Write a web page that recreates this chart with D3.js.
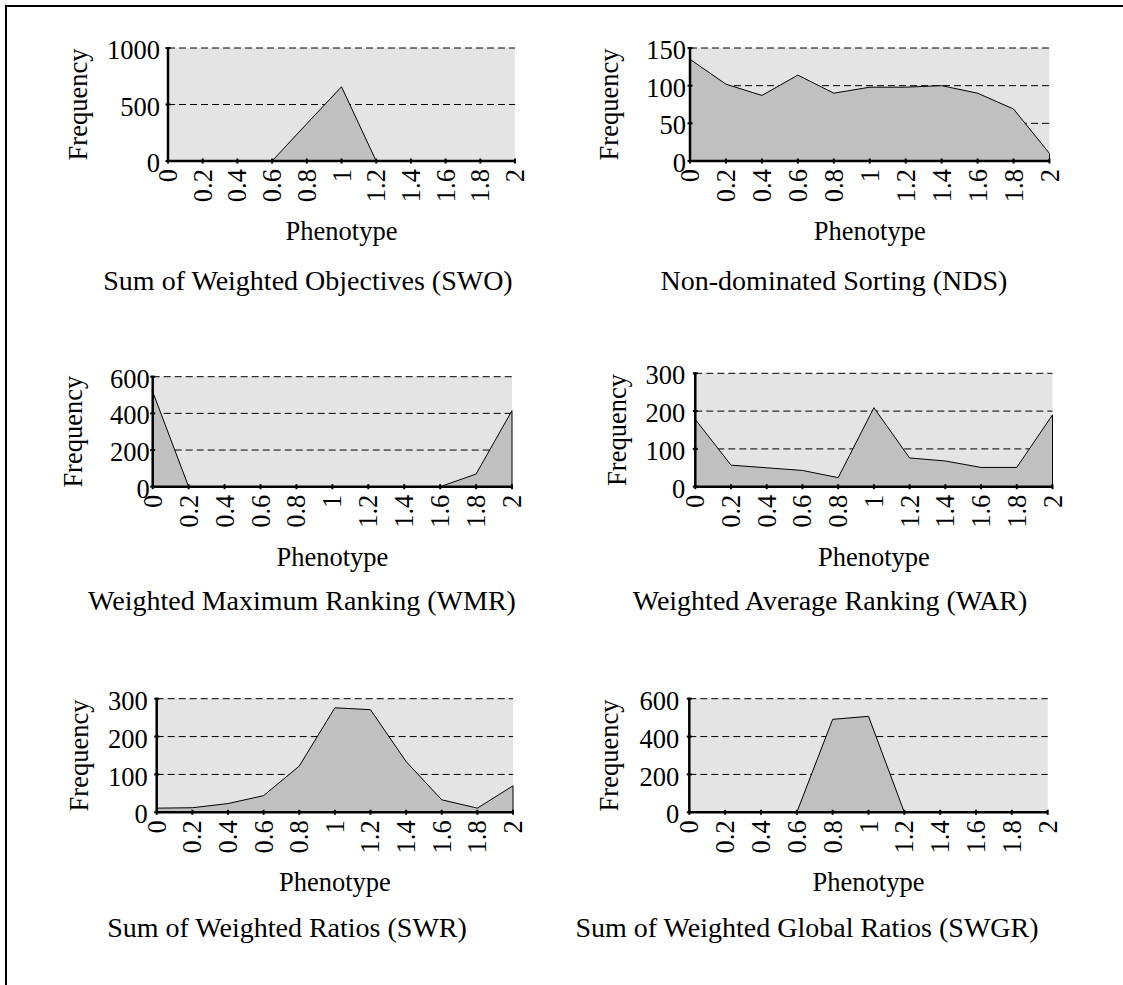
<!DOCTYPE html>
<html>
<head>
<meta charset="utf-8">
<script src="https://cdn.jsdelivr.net/npm/d3@7"></script>
<style>
  html, body { margin: 0; padding: 0; background: #fff; }
  svg { display: block; font-family: "Liberation Serif", "Times New Roman", serif; }
</style>
</head>
<body>
<svg id="chart" width="1123" height="985"></svg>
<script>
// ========================
// DATA
// ========================
const phenotype = [0, 0.2, 0.4, 0.6, 0.8, 1, 1.2, 1.4, 1.6, 1.8, 2];

const swoValues  = [0, 0, 0, 0, 330, 657, 0, 0, 0, 0, 0];
const ndsValues  = [135, 102, 87, 114, 90, 98, 98, 100, 90, 69, 10];
const wmrValues  = [518, 0, 0, 0, 0, 0, 0, 0, 0, 69, 415];
const warValues  = [178, 57, 50, 43, 24, 209, 76, 68, 51, 51, 190];
const swrValues  = [11, 12, 23, 44, 122, 276, 271, 134, 33, 11, 70];
const swgrValues = [0, 0, 0, 0, 491, 507, 0, 0, 0, 0, 0];

const swoTicks  = [0, 500, 1000];
const ndsTicks  = [0, 50, 100, 150];
const wmrTicks  = [0, 200, 400, 600];
const warTicks  = [0, 100, 200, 300];
const swrTicks  = [0, 100, 200, 300];
const swgrTicks = [0, 200, 400, 600];

const titles = [
    "Sum of Weighted Objectives (SWO)",
    "Non-dominated Sorting (NDS)",
    "Weighted Maximum Ranking (WMR)",
    "Weighted Average Ranking (WAR)",
    "Sum of Weighted Ratios (SWR)",
    "Sum of Weighted Global Ratios (SWGR)"
];

// ========================
// LAYOUT (pixel boxes of each panel)
// ========================
const panels = [
    { values: swoValues,  ticks: swoTicks,  x0: 168,   x1: 515,   y0: 48,    y1: 161,   ylabX: 87,  tickGap: 8,  titleX: 308, titleY: 290 },
    { values: ndsValues,  ticks: ndsTicks,  x0: 690,   x1: 1049.5,y0: 48,    y1: 161,   ylabX: 618, tickGap: 4,  titleX: 834, titleY: 290 },
    { values: wmrValues,  ticks: wmrTicks,  x0: 152.7, x1: 512,   y0: 376.7, y1: 486.7, ylabX: 82,  tickGap: 3,  titleX: 302, titleY: 610 },
    { values: warValues,  ticks: warTicks,  x0: 695.3, x1: 1052.5,y0: 373.3, y1: 486.7, ylabX: 626, tickGap: 10, titleX: 830, titleY: 610 },
    { values: swrValues,  ticks: swrTicks,  x0: 156.7, x1: 513,   y0: 698.7, y1: 812.3, ylabX: 88,  tickGap: 9,  titleX: 287, titleY: 937 },
    { values: swgrValues, ticks: swgrTicks, x0: 689.3, x1: 1047.7,y0: 698.7, y1: 812.3, ylabX: 618, tickGap: 10, titleX: 807, titleY: 937 }
];

const svg = d3.select("#chart");

// frame (only top and left edges are visible in the original)
svg.append("path")
    .attr("d", "M6,985V6H1123")
    .attr("fill", "none")
    .attr("stroke", "#000")
    .attr("stroke-width", 2);

function drawPanel(p, i) {
    const x = d3.scaleLinear().domain([0, 2]).range([p.x0, p.x1]);
    const y = d3.scaleLinear().domain([0, d3.max(p.ticks)]).range([p.y1, p.y0]);
    const g = svg.append("g");

    // plot background
    g.append("rect")
        .attr("x", p.x0).attr("y", p.y0)
        .attr("width", p.x1 - p.x0).attr("height", p.y1 - p.y0)
        .attr("fill", "#e4e4e4");

    // dashed gridlines
    g.selectAll(".grid")
        .data(p.ticks.filter(t => t > 0))
        .enter().append("line")
        .attr("x1", p.x0).attr("x2", p.x1)
        .attr("y1", d => y(d)).attr("y2", d => y(d))
        .attr("stroke", "#000")
        .attr("stroke-width", 1)
        .attr("stroke-dasharray", "7,4");

    // area
    const area = d3.area()
        .x((d, j) => x(phenotype[j]))
        .y0(y(0))
        .y1(d => y(d));
    g.append("path")
        .datum(p.values)
        .attr("d", area)
        .attr("fill", "#c0c0c0")
        .attr("stroke", "#000")
        .attr("stroke-width", 1)
        .attr("stroke-linejoin", "round");

    // axes lines
    g.append("line")
        .attr("x1", p.x0).attr("x2", p.x1)
        .attr("y1", p.y1).attr("y2", p.y1)
        .attr("stroke", "#000").attr("stroke-width", 2.5);
    g.append("line")
        .attr("x1", p.x0).attr("x2", p.x0)
        .attr("y1", p.y0 - 1).attr("y2", p.y1)
        .attr("stroke", "#000").attr("stroke-width", 2.5);

    // x ticks (crossing)
    g.selectAll(".xt")
        .data(phenotype)
        .enter().append("line")
        .attr("x1", d => x(d)).attr("x2", d => x(d))
        .attr("y1", p.y1 - 2.5).attr("y2", p.y1 + 2.5)
        .attr("stroke", "#000").attr("stroke-width", 2);

    // y ticks (crossing)
    g.selectAll(".yt")
        .data(p.ticks)
        .enter().append("line")
        .attr("x1", p.x0 - 2.5).attr("x2", p.x0 + 2.5)
        .attr("y1", d => y(d)).attr("y2", d => y(d))
        .attr("stroke", "#000").attr("stroke-width", 2);

    // y tick labels
    g.selectAll(".yl")
        .data(p.ticks)
        .enter().append("text")
        .attr("x", p.x0 - p.tickGap)
        .attr("y", d => y(d))
        .attr("dy", "0.42em")
        .attr("text-anchor", "end")
        .attr("font-size", "26.5px")
        .text(d => d);

    // x tick labels (rotated)
    g.selectAll(".xl")
        .data(phenotype)
        .enter().append("text")
        .attr("transform", d => `translate(${x(d)},${p.y1 + 8}) rotate(-90)`)
        .attr("dy", "0.34em")
        .attr("text-anchor", "end")
        .attr("font-size", "26.5px")
        .text(d => String(d));

    // y axis title
    g.append("text")
        .attr("transform", `translate(${p.ylabX},${(p.y0 + p.y1) / 2}) rotate(-90)`)
        .attr("text-anchor", "middle")
        .attr("font-size", "26.5px")
        .text("Frequency");

    // x axis title
    g.append("text")
        .attr("x", (p.x0 + p.x1) / 2)
        .attr("y", p.y1 + 79)
        .attr("text-anchor", "middle")
        .attr("font-size", "26.5px")
        .text("Phenotype");

    // panel caption
    g.append("text")
        .attr("x", p.titleX)
        .attr("y", p.titleY)
        .attr("text-anchor", "middle")
        .attr("font-size", "28px")
        .text(titles[i]);
}

panels.forEach(drawPanel);
</script>
</body>
</html>
